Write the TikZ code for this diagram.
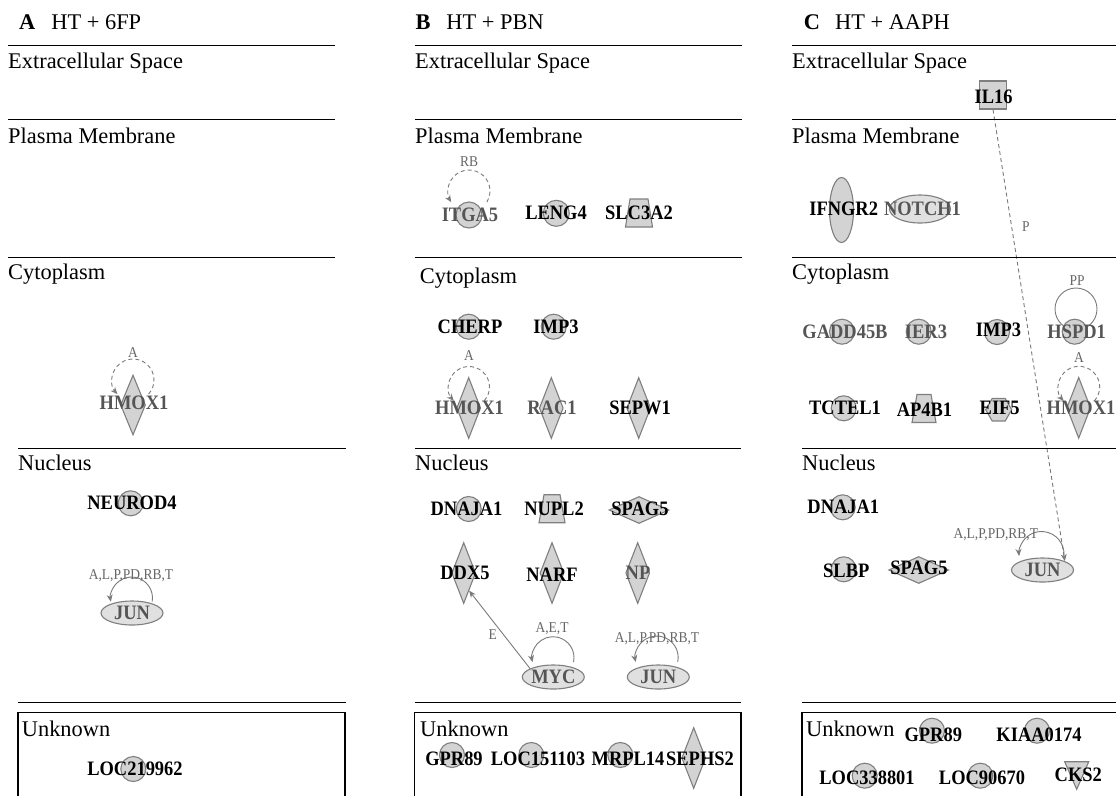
\documentclass[tikz,border=0pt]{standalone}
\usepackage{fontspec}
\setmainfont{Liberation Serif}
\newfontfamily\genefont[FakeStretch=0.9]{Liberation Serif}
\usetikzlibrary{shapes.geometric,arrows.meta,calc}
\definecolor{shapeline}{HTML}{7F7F7F}
\definecolor{shapefill}{HTML}{D3D3D3}
\definecolor{lightfill}{HTML}{E0E0E0}
\definecolor{graytext}{HTML}{555555}
\definecolor{edgegray}{HTML}{7A7A7A}
\definecolor{labgray}{HTML}{666666}
\pgfdeclarelayer{bg}
\pgfsetlayers{bg,main}
\tikzset{
  shp/.style={draw=shapeline, fill=shapefill, line width=1.1pt},
  gcirc/.style={shp, circle, minimum size=25pt, inner sep=0pt},
  gdiam/.style={shp, diamond, minimum width=24pt, minimum height=61pt, inner sep=0pt},
  ghdiam/.style={shp, diamond, minimum width=60pt, minimum height=27pt, inner sep=0pt},
  gell/.style={shp, ellipse, fill=lightfill, minimum width=62pt, minimum height=24pt, inner sep=0pt},
  ghex/.style={shp, regular polygon, regular polygon sides=6, minimum size=26pt, inner sep=0pt},
  gsq/.style={shp, rectangle, minimum width=27pt, minimum height=28pt, inner sep=0pt},
  gene/.style={font=\genefont\fontsize{20.5}{22}\selectfont\bfseries, inner sep=0pt, text=black},
  ggene/.style={gene, text=graytext},
  seclab/.style={font=\fontsize{22.4}{26}\selectfont, inner sep=0pt, anchor=base west},
  elab/.style={font=\genefont\fontsize{15}{16}\selectfont, text=labgray, inner sep=0pt},
  sepline/.style={line width=1.2pt, draw=black},
  edge/.style={draw=edgegray, line width=0.9pt},
  dedge/.style={edge, dash pattern=on 4pt off 3pt},
  tip/.style={-{Stealth[length=7pt,width=6pt]}},
  pics/trans/.style n args={3}{code={\filldraw[shp] (-#1/2,-#3/2) -- (#1/2,-#3/2) -- (#2/2,#3/2) -- (-#2/2,#3/2) -- cycle;}},
  pics/kinase/.style={code={\filldraw[shp] (-12,-13.8) -- (12,-13.8) -- (0,13.8) -- cycle;}}
}
\begin{document}
\begin{tikzpicture}[x=1pt,y=-1pt]
\useasboundingbox (0,0) rectangle (1116,796);

%% ================= Panel A =================
\node[seclab] (titA) at (19,29.5) {\textbf{A}\hspace{16pt}HT + 6FP};
\draw[sepline] (8,45.7) -- (335,45.7);
\draw[sepline] (8,119.3) -- (335,119.3);
\draw[sepline] (8,257.7) -- (335,257.7);
\draw[sepline] (18,448.3) -- (346,448.3);
\draw[sepline] (18,702.3) -- (346,702.3);
\draw[sepline] (18,796) -- (18,712.3) -- (345,712.3) -- (345,796);
\node[seclab] (exA) at (8,68) {Extracellular Space};
\node[seclab] (pmA) at (8,143) {Plasma Membrane};
\node[seclab] (cyA) at (8,279) {Cytoplasm};
\node[seclab] (nuA) at (18,470) {Nucleus};
\node[seclab] (unA) at (21.7,736.7) {Unknown};

\coordinate (hmoxAloop) at (133,380);
\node[gdiam, minimum width=25pt, minimum height=60pt] (hmoxA) at (133,405) {};
\node[ggene] (hmoxAt) at (134,403) {HMOX1};
\node[elab] (hmoxAl) at (133,353) {A};

\node[gcirc] (neurod4) at (130.7,503.3) {};
\node[gene] (neurod4t) at (132,503) {NEUROD4};

\coordinate (junAloop) at (131.5,598);
\node[gell] (junA) at (132,613) {};
\node[ggene] (junAt) at (132,613) {JUN};
\node[elab] (junAl) at (131,576) {A,L,P,PD,RB,T};

\node[gcirc] (loc219962) at (133.3,769) {};
\node[gene] (loc219962t) at (135,769) {LOC219962};

%% ================= Panel B =================
\node[seclab] (titB) at (415.3,29.5) {\textbf{B}\hspace{16pt}HT + PBN};
\draw[sepline] (414.7,45.7) -- (742,45.7);
\draw[sepline] (414.7,119.3) -- (742,119.3);
\draw[sepline] (414.7,257.7) -- (742,257.7);
\draw[sepline] (414.7,448.3) -- (741.3,448.3);
\draw[sepline] (414.7,702.3) -- (741.3,702.3);
\draw[sepline] (414.7,796) -- (414.7,712.3) -- (741,712.3) -- (741,796);
\node[seclab] (exB) at (415,68) {Extracellular Space};
\node[seclab] (pmB) at (415,143) {Plasma Membrane};
\node[seclab] (cyB) at (419.7,283) {Cytoplasm};
\node[seclab] (nuB) at (415,470) {Nucleus};
\node[seclab] (unB) at (420,736.7) {Unknown};

\coordinate (itga5loop) at (469,191);
\node[gcirc, minimum size=26pt] (itga5) at (469,215) {};
\node[ggene] (itga5t) at (470,215) {ITGA5};
\node[elab] (itga5l) at (469,161.7) {RB};
\node[gcirc, minimum size=26pt] (leng4) at (556.3,213.3) {};
\node[gene] (leng4t) at (556,213) {LENG4};
\pic at (639,213) {trans={18}{27}{28}};
\node[gene] (slc3a2t) at (639,213) {SLC3A2};

\node[gcirc] (cherp) at (468.7,326.7) {};
\node[gene] (cherpt) at (470,326.7) {CHERP};
\node[gcirc] (imp3B) at (553.7,326.7) {};
\node[gene] (imp3Bt) at (556,327) {IMP3};
\coordinate (hmoxBloop) at (469,387);
\node[gdiam] (hmoxB) at (468.7,408) {};
\node[ggene] (hmoxBt) at (469.5,407.7) {HMOX1};
\node[elab] (hmoxBl) at (469,356) {A};
\node[gdiam] (rac1) at (551.3,408) {};
\node[ggene] (rac1t) at (552,408) {RAC1};
\node[gdiam] (sepw1) at (638.7,408) {};
\node[gene] (sepw1t) at (640,408) {SEPW1};

\node[gcirc] (dnaja1B) at (468.7,509) {};
\node[gene] (dnaja1Bt) at (466.5,509) {DNAJA1};
\pic at (552,508.7) {trans={16}{26}{28}};
\node[gene] (nupl2t) at (554,508.7) {NUPL2};
\node[ghdiam] (spag5B) at (639,510) {};
\node[gene] (spag5Bt) at (640,509) {SPAG5};
\node[gdiam] (ddx5) at (463.7,573) {};
\node[gene] (ddx5t) at (465,573) {DDX5};
\node[gdiam] (narf) at (552,573) {};
\node[gene] (narft) at (552,575) {NARF};
\node[gdiam] (np) at (637.7,573) {};
\node[ggene] (npt) at (638,573) {NP};
\coordinate (mycloop) at (553,657.7);
\node[gell] (myc) at (553.3,677) {};
\node[ggene] (myct) at (553.3,677) {MYC};
\node[elab] (mycl) at (552,629) {A,E,T};
\coordinate (junBloop) at (656.7,657.5);
\node[gell] (junB) at (658.3,677) {};
\node[ggene] (junBt) at (658.3,677) {JUN};
\node[elab] (junBl) at (657,638.3) {A,L,P,PD,RB,T};

\node[gcirc] (gpr89B) at (452,755) {};
\node[gene] (gpr89Bt) at (454,759) {GPR89};
\node[gcirc] (loc151103) at (531.3,755) {};
\node[gene] (loc151103t) at (538,759) {LOC151103};
\node[gcirc] (mrpl14) at (620.3,755) {};
\node[gene] (mrpl14t) at (628,759) {MRPL14};
\node[gdiam] (sephs2) at (693.7,758) {};
\node[gene] (sephs2t) at (700,759) {SEPHS2};

%% ================= Panel C =================
\node[seclab] (titC) at (803.7,29.5) {\textbf{C}\hspace{15pt}HT + AAPH};
\draw[sepline] (792,45.7) -- (1116,45.7);
\draw[sepline] (792,119.3) -- (1116,119.3);
\draw[sepline] (792,257.7) -- (1116,257.7);
\draw[sepline] (802,448.3) -- (1116,448.3);
\draw[sepline] (802,702.3) -- (1116,702.3);
\draw[sepline] (802,796) -- (802,712.3) -- (1116,712.3);
\node[seclab] (exC) at (792,68) {Extracellular Space};
\node[seclab] (pmC) at (792,143) {Plasma Membrane};
\node[seclab] (cyC) at (792,279) {Cytoplasm};
\node[seclab] (nuC) at (802,470) {Nucleus};
\node[seclab] (unC) at (806,736.7) {Unknown};

\node[gsq] (il16) at (993,95) {};
\node[gene] (il16t) at (993.7,96.7) {IL16};
\node[shp, ellipse, minimum width=24pt, minimum height=65pt, inner sep=0pt] (ifngr2) at (841.5,210) {};
\node[gene] (ifngr2t) at (843.7,209.3) {IFNGR2};
\node[gell, minimum width=61pt, minimum height=28pt] (notch1) at (920,209) {};
\node[ggene] (notch1t) at (922.5,209) {NOTCH1};

\node[gcirc] (gadd45b) at (842,331.7) {};
\node[ggene] (gadd45bt) at (845,331.7) {GADD45B};
\node[gcirc] (ier3) at (918.7,331.7) {};
\node[ggene] (ier3t) at (926,331.7) {IER3};
\node[gcirc] (imp3C) at (997,332) {};
\node[gene] (imp3Ct) at (998.5,330) {IMP3};
\coordinate (hspd1loop) at (1076,309);
\node[gcirc] (hspd1) at (1074.7,331.7) {};
\node[ggene] (hspd1t) at (1076.7,331.7) {HSPD1};
\node[elab] (hspd1l) at (1077,280.7) {PP};
\node[gcirc] (tctel1) at (843.7,408.3) {};
\node[gene] (tctel1t) at (845,408.3) {TCTEL1};
\pic at (924,408.5) {trans={14}{24}{28}};
\node[gene] (ap4b1t) at (924.5,410) {AP4B1};
\node[ghex] (eif5) at (998.7,409.7) {};
\node[gene] (eif5t) at (999.7,408.3) {EIF5};
\coordinate (hmoxCloop) at (1079,387);
\node[gdiam] (hmoxC) at (1078.7,407.8) {};
\node[ggene] (hmoxCt) at (1081,407.7) {HMOX1};
\node[elab] (hmoxCl) at (1079,357.3) {A};

\node[gcirc] (dnaja1C) at (842.7,507.3) {};
\node[gene] (dnaja1Ct) at (843.3,507.3) {DNAJA1};
\node[gcirc] (slbp) at (843.7,569.3) {};
\node[gene] (slbpt) at (846.3,570.7) {SLBP};
\node[ghdiam] (spag5C) at (918.7,570) {};
\node[gene] (spag5Ct) at (919,568) {SPAG5};
\coordinate (junCloop) at (1041.5,554);
\node[gell] (junC) at (1042.5,570) {};
\node[ggene] (junCt) at (1042.5,570) {JUN};
\node[elab] (junCl) at (995.8,535) {A,L,P,PD,RB,T};

\node[gcirc] (gpr89C) at (932,730.7) {};
\node[gene] (gpr89Ct) at (933.3,735) {GPR89};
\node[gcirc] (kiaa0174) at (1037,730.7) {};
\node[gene] (kiaa0174t) at (1039,735) {KIAA0174};
\node[gcirc] (loc338801) at (864.7,775.7) {};
\node[gene] (loc338801t) at (867,777.3) {LOC338801};
\node[gcirc] (loc90670) at (980.3,775.7) {};
\node[gene] (loc90670t) at (982,777.3) {LOC90670};
\pic at (1076.7,775.5) {kinase};
\node[gene] (cks2t) at (1078.3,775) {CKS2};

%% ================= Edges (behind shapes) =================
\begin{pgfonlayer}{bg}
\draw[dedge,tip] ([shift={(-42:21pt)}]hmoxAloop) arc[start angle=-42, end angle=222, radius=21pt];
\draw[edge,tip] ([shift={(-10:21pt)}]junAloop) arc[start angle=-10, end angle=190, radius=21pt];

\draw[dedge,tip] ([shift={(-32:21pt)}]itga5loop) arc[start angle=-32, end angle=212, radius=21pt];
\draw[dedge,tip] ([shift={(-42:20.5pt)}]hmoxBloop) arc[start angle=-42, end angle=222, radius=20.5pt];
\draw[edge,tip] ([shift={(-12:21pt)}]mycloop) arc[start angle=-12, end angle=192, radius=21pt];
\draw[edge,tip] ([shift={(-12:21.5pt)}]junBloop) arc[start angle=-12, end angle=192, radius=21.5pt];
\draw[edge,tip] (myc.160) -- (ddx5.-73) node[elab, pos=0.44, left=6pt] (eE) {E};

\draw[edge] (hspd1loop) circle[radius=21pt];
\draw[dedge,tip] ([shift={(-42:20.7pt)}]hmoxCloop) arc[start angle=-42, end angle=222, radius=20.7pt];
\draw[edge,tip] ([shift={(-5:22.5pt)}]junCloop) arc[start angle=-5, end angle=185, radius=22.5pt];
\draw[dedge,tip] (il16.south) -- (junC.north east) node[elab, pos=0.26, right=10pt] (eP) {P};
\end{pgfonlayer}
\end{tikzpicture}
\end{document}
